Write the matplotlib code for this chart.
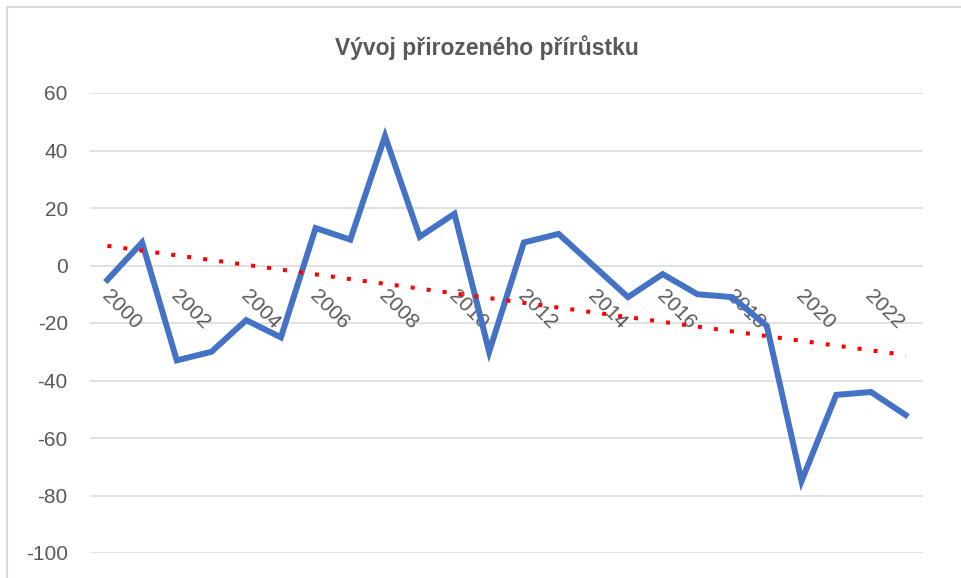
import matplotlib.pyplot as plt
import numpy as np
from matplotlib.patches import Rectangle

plt.rcParams['font.family'] = ['Liberation Sans', 'DejaVu Sans']

years = list(range(2000, 2024))
prirustek = [-5, 8, -33, -30, -19, -25, 13, 9, 45, 10, 18, -30,
             8, 11, 0, -11, -3, -10, -11, -21, -75, -45, -44, -52]
title = 'Vývoj přirozeného přírůstku'
yticks = [-100, -80, -60, -40, -20, 0, 20, 40, 60]

grey = '#595959'

fig = plt.figure(figsize=(9.62, 5.78), dpi=100)
ax = fig.add_axes([90 / 962, 25 / 578, 833 / 962, 460 / 578])

x = np.arange(len(years))
ax.plot(x, prirustek, color='#4472C4', lw=4.3, solid_joinstyle='miter', zorder=3)

# linear trendline like excel
k, q = np.polyfit(x, prirustek, 1)
ax.plot(x, k * x + q, color='#FF0000', lw=2.9, linestyle=(0, (1, 3)), zorder=4)

ax.set_xlim(-0.5, len(years) - 0.5)
ax.set_ylim(-100, 60)
ax.set_yticks(yticks)
ax.set_yticklabels([str(t) for t in yticks])
ax.yaxis.grid(True, color='#D9D9D9', lw=1.1)
ax.set_axisbelow(True)
ax.tick_params(axis='y', length=0, pad=16, labelsize=15, labelcolor=grey)
ax.set_xticks([])
for s in ax.spines.values():
    s.set_visible(False)

for i, yr in enumerate(years):
    if i % 2 == 0:
        ax.annotate(str(yr), xy=(i, 0), xytext=(-2, -20), textcoords='offset points',
                    rotation=-45, rotation_mode='anchor', ha='left', va='center',
                    fontsize=15, color=grey, zorder=2)

fig.text(487 / 962, 1 - 48 / 578, title, ha='center', va='center',
         fontsize=16.5, fontweight='bold', color=grey)

# chart border (only top and left visible in the crop)
fig.add_artist(Rectangle((7 / 962, -0.1), 2, 1.1 - 7 / 578, transform=fig.transFigure,
                         fill=False, edgecolor='#D9D9D9', lw=1.5))

fig.savefig('out.png', dpi=100)
